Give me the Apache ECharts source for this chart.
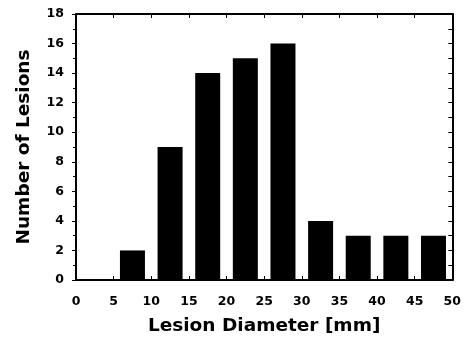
<!DOCTYPE html>
<html><head><meta charset="utf-8">
<script src="https://cdn.jsdelivr.net/npm/echarts@6/dist/echarts.min.js"></script>
<style>html,body{margin:0;padding:0;background:#fff}#c{width:464px;height:341px}</style>
</head><body><div id="c"></div>
<script>
const binCenters = [7.5, 12.5, 17.5, 22.5, 27.5, 32.5, 37.5, 42.5, 47.5];
const lesionCounts = [2, 9, 14, 15, 16, 4, 3, 3, 3];
const xTitle = 'Lesion Diameter [mm]';
const yTitle = 'Number of Lesions';

const wideFont = 'DejaVu Sans, Verdana, sans-serif';
const chart = echarts.init(document.getElementById('c'), null, {renderer: 'canvas'});
const axLine = {show: true, onZero: false, lineStyle: {color: '#000', width: 2}};
chart.setOption({
  animation: false,
  grid: {left: 76, right: 8, top: 14, bottom: 60},
  xAxis: [{
    type: 'value', min: 0, max: 50, interval: 5, position: 'bottom',
    axisLine: axLine,
    axisTick: {show: true, inside: true, length: 4, lineStyle: {color: '#000', width: 1}},
    splitLine: {show: false},
    axisLabel: {color: '#000', fontFamily: wideFont, fontWeight: 'bold', fontSize: 12.5, margin: 15},
    name: xTitle, nameLocation: 'middle', nameGap: 37,
    nameTextStyle: {color: '#000', fontFamily: wideFont, fontWeight: 'bold', fontSize: 18.5}
  }, {
    type: 'value', min: 0, max: 50, interval: 5, position: 'top',
    axisLine: axLine,
    axisTick: {show: true, inside: true, length: 4, lineStyle: {color: '#000', width: 1}},
    axisLabel: {show: false}, splitLine: {show: false}
  }],
  yAxis: [{
    type: 'value', min: 0, max: 18, interval: 2, position: 'left',
    axisLine: axLine,
    axisTick: {show: true, length: 4, lineStyle: {color: '#000', width: 1}},
    minorTick: {show: true, splitNumber: 2, length: 3, lineStyle: {color: '#000', width: 1}},
    splitLine: {show: false},
    axisLabel: {color: '#000', fontFamily: wideFont, fontWeight: 'bold', fontSize: 12.5, margin: 12},
    name: yTitle, nameLocation: 'middle', nameGap: 42, nameRotate: 90,
    nameTextStyle: {color: '#000', fontFamily: wideFont, fontWeight: 'bold', fontSize: 18.5}
  }, {
    type: 'value', min: 0, max: 18, interval: 1, position: 'right',
    axisLine: axLine,
    axisTick: {show: true, inside: true, length: 4, lineStyle: {color: '#000', width: 1}},
    axisLabel: {show: false}, splitLine: {show: false}
  }],
  series: [{
    type: 'bar', xAxisIndex: 0, yAxisIndex: 0,
    barWidth: 25,
    data: binCenters.map((c, i) => [c, lesionCounts[i]]),
    itemStyle: {color: '#000', borderWidth: 0}
  }]
});
</script></body></html>
